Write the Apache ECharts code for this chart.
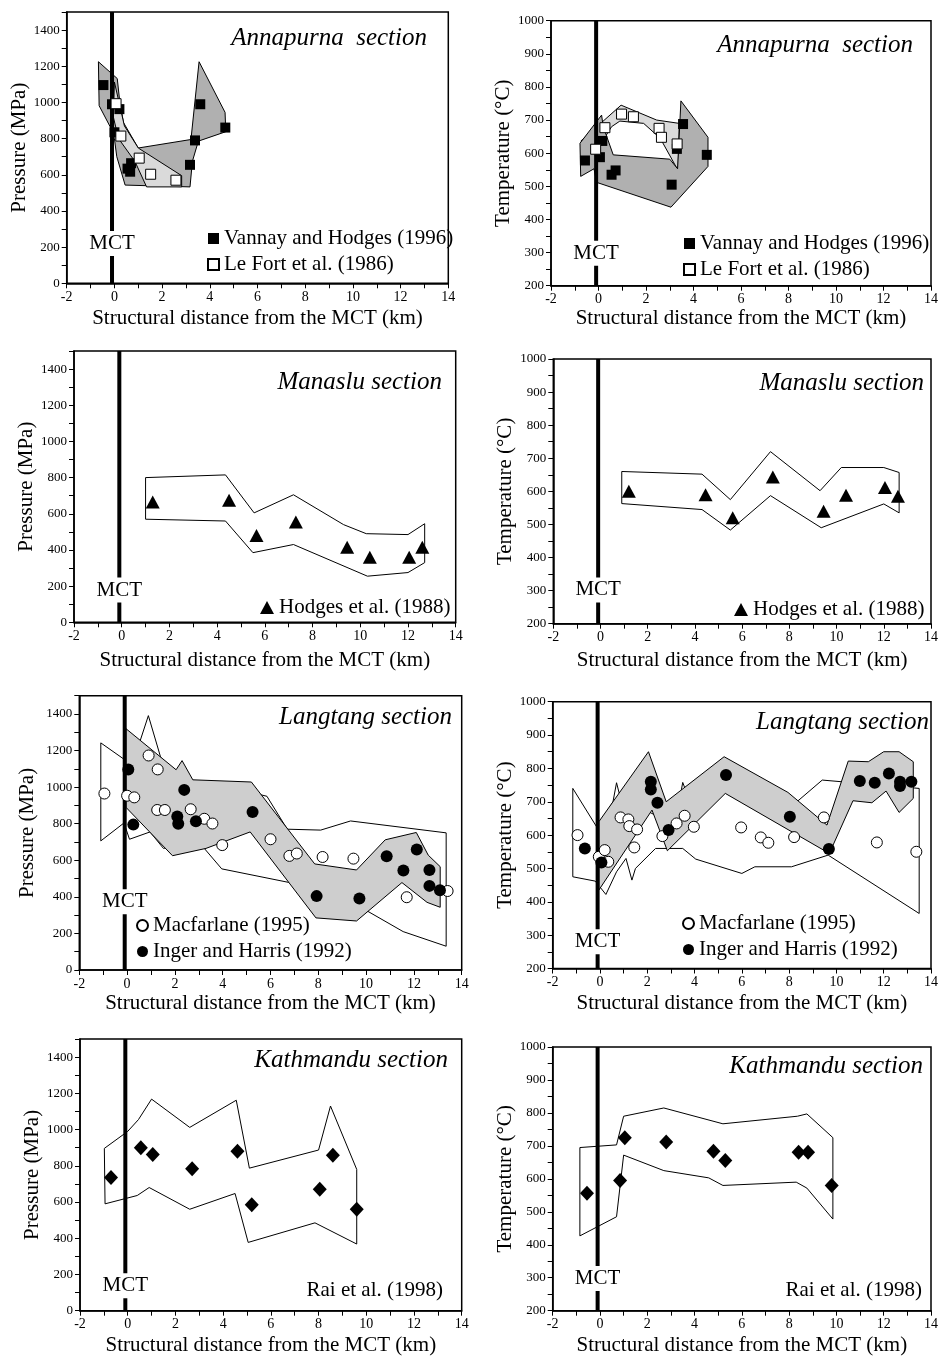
<!DOCTYPE html>
<html><head><meta charset="utf-8">
<script src="https://cdn.jsdelivr.net/npm/echarts@6/dist/echarts.min.js"></script>
<style>html,body{margin:0;padding:0;background:#fff}#c{width:941px;height:1357px}</style>
</head><body><div id="c"></div>
<script>
// ---------- tick labels ----------
const xTickLabels = [-2, 0, 2, 4, 6, 8, 10, 12, 14];
const pTickLabels = [0, 200, 400, 600, 800, 1000, 1200, 1400];
const tTickLabels = [200, 300, 400, 500, 600, 700, 800, 900, 1000];
const mctX = -0.1;

// ---------- Annapurna pressure ----------
const annP_vannay = [[-0.46,1096],[-0.1,990],[0.21,963],[0.0,835],[0.55,634],[0.7,664],[0.66,617],[3.17,655],[3.38,790],[3.6,990],[4.65,861]];
const annP_lefort = [[0.07,993],[0.27,814],[1.04,692],[1.52,603],[2.58,570]];
const annP_envVannay = [[-0.67,1225],[0.12,1132],[0.22,1010],[0.38,889],[1.0,748],[3.21,795],[3.55,1225],[4.64,945],[4.67,838],[3.52,786],[3.27,674],[3.17,533],[0.45,543],[0.1,700],[0.0,800],[-0.12,851],[-0.64,982]];
const annP_envLeFort = [[0.0,1113],[0.42,870],[1.0,748],[2.82,595],[2.82,533],[1.35,533],[0.86,674],[0.17,801],[-0.04,917]];

// ---------- Annapurna temperature ----------
const annT_vannay = [[-0.57,578],[0.06,588],[0.16,637],[0.55,535],[0.72,548],[3.08,505],[3.3,613],[3.56,688],[4.56,595]];
const annT_lefort = [[-0.12,612],[0.27,677],[0.97,718],[1.47,710],[2.55,675],[2.65,648],[3.31,628]];
const annT_envLeFort = [[-0.74,637],[0.95,745],[2.45,700],[3.4,690],[3.35,548],[2.6,645],[1.9,690],[0.9,697],[0.55,680],[0.2,640],[-0.3,605]];
const annT_envVannay = [[-0.78,630],[0.13,715],[0.2,680],[0.62,595],[3.0,582],[3.33,553],[3.47,758],[4.61,648],[4.61,560],[3.05,437],[-0.08,512],[-0.19,553],[-0.75,530]];

// ---------- Manaslu ----------
const manP_hodges = [[1.3,665],[4.5,675],[5.65,480],[7.3,555],[9.45,415],[10.4,360],[12.05,360],[12.6,415]];
const manP_env = [[1.0,800],[4.35,815],[5.55,605],[7.2,705],[9.3,540],[10.25,490],[12.0,485],[12.7,545],[12.7,330],[12.0,275],[10.3,255],[7.2,430],[5.5,385],[4.35,560],[1.0,570]];
const manT_hodges = [[1.2,600],[4.45,590],[5.6,520],[7.3,643],[9.45,540],[10.4,588],[12.05,612],[12.6,585]];
const manT_env = [[0.9,660],[4.3,652],[5.5,575],[7.2,720],[9.3,602],[10.2,672],[12.0,672],[12.65,657],[12.65,535],[12.0,562],[9.35,490],[7.2,587],[5.5,483],[4.3,545],[0.9,563]];

// ---------- Langtang ----------
const lanP_mac = [[-0.95,965],[0.0,953],[0.3,944],[0.9,1173],[1.28,1097],[1.26,875],[1.58,875],[2.66,879],[3.23,827],[3.57,801],[3.98,683],[6.0,715],[6.79,624],[7.1,637],[8.18,618],[9.47,609],[11.7,398],[13.41,432]];
const lanP_inger = [[0.05,1097],[0.26,795],[2.39,985],[2.1,840],[2.14,800],[2.88,814],[5.25,864],[7.93,404],[9.72,391],[10.86,622],[11.56,544],[12.12,659],[12.65,547],[12.65,460],[13.09,436]];
const lanP_envMac = [[-1.1,1242],[-0.1,1150],[0.55,1255],[0.89,1391],[1.4,1165],[2.2,1000],[5.0,960],[5.6,958],[5.85,950],[6.7,770],[8.1,765],[9.35,815],[13.35,750],[13.35,130],[11.55,210],[9.75,345],[6.8,478],[3.96,553],[3.0,700],[1.52,665],[0.96,755],[0.1,715],[-0.13,804],[-1.1,706]];
const lanP_envInger = [[-0.05,1320],[2.05,1095],[2.3,1145],[2.75,1040],[5.2,1028],[7.85,580],[9.6,547],[10.8,712],[12.1,752],[12.6,628],[13.1,565],[13.1,343],[12.55,370],[11.5,478],[9.6,268],[7.9,285],[5.15,755],[3.3,665],[1.9,625],[-0.05,890]];

const lanT_mac = [[-0.95,600],[-0.05,535],[0.2,555],[0.35,520],[0.87,653],[1.2,647],[1.24,627],[1.57,617],[1.45,563],[2.64,597],[3.24,635],[3.58,658],[3.97,625],[5.97,623],[6.8,593],[7.12,577],[8.21,594],[9.47,653],[11.71,578],[13.38,550]];
const lanT_inger = [[-0.64,560],[0.06,518],[2.15,760],[2.15,737],[2.43,697],[2.9,615],[5.33,780],[8.03,655],[9.68,558],[10.99,762],[11.62,757],[12.22,785],[12.69,760],[12.69,747],[13.17,760]];
const lanT_envMac = [[-1.15,740],[-0.1,620],[0.55,700],[0.7,757],[0.85,715],[2.6,650],[3.35,700],[3.5,758],[3.7,720],[5.3,780],[8.0,680],[9.4,765],[13.5,740],[13.5,365],[9.65,540],[8.1,505],[6.55,505],[6.0,485],[4.05,528],[3.5,560],[2.35,560],[1.5,500],[1.35,465],[1.1,530],[0.7,490],[0.25,422],[-0.2,462],[-1.15,475]];
const lanT_envInger = [[-0.05,640],[2.05,850],[2.8,700],[5.25,835],[7.95,728],[9.6,630],[10.5,822],[11.35,820],[12.0,850],[12.65,850],[13.25,820],[13.25,710],[12.65,668],[12.1,732],[11.5,697],[10.7,703],[9.7,545],[5.3,725],[2.85,553],[2.2,675],[-0.05,435]];

// ---------- Kathmandu ----------
const katP_rai = [[-0.7,735],[0.55,900],[1.05,862],[2.7,783],[4.6,880],[5.2,585],[8.05,670],[8.6,858],[9.6,560]];
const katP_env = [[-0.98,896],[0.0,990],[0.45,1055],[1.0,1168],[2.6,1012],[4.55,1162],[5.1,787],[8.0,887],[8.5,1130],[9.6,780],[9.6,368],[7.85,485],[5.05,377],[4.5,647],[2.6,560],[0.9,680],[0.4,636],[-0.95,590]];
const katT_rai = [[-0.55,556],[0.85,595],[1.05,725],[2.8,712],[4.8,684],[5.3,656],[8.4,681],[8.8,681],[9.8,580]];
const katT_env = [[-0.85,695],[0.7,703],[1.0,790],[2.7,815],[5.2,767],[8.35,790],[8.75,797],[9.85,725],[9.85,478],[8.75,572],[8.3,590],[5.2,580],[4.6,603],[2.7,625],[1.0,672],[0.7,485],[-0.85,427]];

// ---------- names ----------
const N_VAN = 'Vannay and Hodges (1996)', N_LEF = 'Le Fort et al. (1986)', N_HOD = 'Hodges et al. (1988)',
      N_MAC = 'Macfarlane (1995)', N_ING = 'Inger and Harris (1992)', N_RAI = 'Rai et al. (1998)';

const FONT = '"Liberation Serif", "Times New Roman", serif';
const DARK = '#b0b0b0', LIGHT = '#dadada', MID = '#cecece', NONE = '#ffffff';
const STY = {
  fsq:{symbol:'rect', size:10, fill:'#000', bw:0},
  osq:{symbol:'rect', size:10, fill:'#fff', bw:1},
  tri:{symbol:'triangle', size:[14,13], fill:'#000', bw:0},
  oc:{symbol:'circle', size:11, fill:'#fff', bw:1},
  fc:{symbol:'circle', size:12, fill:'#000', bw:0},
  dia:{symbol:'diamond', size:[14,15], fill:'#000', bw:0}
};

const panels = [
  {g:{left:66.7,top:12,width:381.6,height:271.3}, k:'P', yGap:35, xGap:25, title:'Annapurna  section', tr:514, tt:26, mctY:220,
   polys:[[annP_envVannay,DARK],[annP_envLeFort,LIGHT]], sc:[[N_VAN,annP_vannay,'fsq'],[N_LEF,annP_lefort,'osq']],
   leg:{left:207, top:228, items:[[N_VAN,'fsq'],[N_LEF,'osq']]}},
  {g:{left:551,top:20.7,width:380.7,height:265}, k:'T', yGap:34, xGap:22, title:'Annapurna  section', tr:28, tt:33, mctY:298,
   polys:[[annT_envLeFort,LIGHT],[annT_envVannay,DARK]], sc:[[N_VAN,annT_vannay,'fsq'],[N_LEF,annT_lefort,'osq']],
   leg:{left:683, top:233, items:[[N_VAN,'fsq'],[N_LEF,'osq']]}},
  {g:{left:74,top:351,width:381.7,height:271.3}, k:'P', yGap:35, xGap:28, title:'Manaslu section', tr:499, tt:370, mctY:178,
   polys:[[manP_env,NONE]], sc:[[N_HOD,manP_hodges,'tri']],
   leg:{left:260, top:597, items:[[N_HOD,'tri']]}},
  {g:{left:553.3,top:359,width:380.7,height:264.7}, k:'T', yGap:33.5, xGap:26, title:'Manaslu section', tr:17, tt:371, mctY:302,
   polys:[[manT_env,NONE]], sc:[[N_HOD,manT_hodges,'tri']],
   leg:{left:734, top:599, items:[[N_HOD,'tri']]}},
  {g:{left:79.3,top:695.7,width:382.4,height:274.3}, k:'P', yGap:41, xGap:23, title:'Langtang section', tr:489, tt:705, mctY:373,
   polys:[[lanP_envMac,NONE],[lanP_envInger,MID]], sc:[[N_MAC,lanP_mac,'oc'],[N_ING,lanP_inger,'fc']],
   leg:{left:136, top:915, items:[[N_MAC,'oc'],[N_ING,'fc']]}},
  {g:{left:552.7,top:701.7,width:381.3,height:266.8}, k:'T', yGap:35, xGap:24, title:'Langtang section', tr:12, tt:710, mctY:280,
   polys:[[lanT_envMac,NONE],[lanT_envInger,MID]], sc:[[N_MAC,lanT_mac,'oc'],[N_ING,lanT_inger,'fc']],
   leg:{left:682, top:913, items:[[N_MAC,'oc'],[N_ING,'fc']]}},
  {g:{left:80,top:1039,width:381.7,height:271.7}, k:'P', yGap:36, xGap:24, title:'Kathmandu section', tr:493, tt:1048, mctY:138,
   polys:[[katP_env,NONE]], sc:[[N_RAI,katP_rai,'dia']], note:{right:498, top:1280}},
  {g:{left:552.7,top:1047,width:381.6,height:263.7}, k:'T', yGap:31.5, xGap:24, title:'Kathmandu section', tr:18, tt:1054, mctY:298,
   polys:[[katT_env,NONE]], sc:[[N_RAI,katT_rai,'dia']], note:{right:19, top:1280}}
];

const grids = [], xAxes = [], yAxes = [], series = [], titles = [], legends = [];
const blk = '#000';
panels.forEach((p, i) => {
  grids.push(Object.assign({show:true, borderColor:blk, borderWidth:1.5, backgroundColor:'transparent'}, p.g));
  xAxes.push({gridIndex:i, type:'value', min:xTickLabels[0], max:xTickLabels[xTickLabels.length-1], interval:1,
    name:'Structural distance from the MCT (km)', nameLocation:'middle', nameGap:p.xGap,
    nameTextStyle:{fontFamily:FONT, fontSize:21, color:blk},
    axisLine:{show:true, onZero:false, lineStyle:{color:blk, width:1.5}},
    axisTick:{show:true, length:5, lineStyle:{color:blk, width:1}},
    axisLabel:{fontFamily:FONT, fontSize:14, color:blk, margin:7, formatter:v => xTickLabels.includes(v) ? String(v) : ''},
    splitLine:{show:false}});
  const isP = p.k === 'P';
  const labs = isP ? pTickLabels : tTickLabels;
  yAxes.push({gridIndex:i, type:'value', min:labs[0], max:isP ? 1500 : 1000, interval:isP ? 100 : 50,
    name:isP ? 'Pressure (MPa)' : 'Temperature (°C)', nameLocation:'middle', nameGap:p.yGap,
    nameTextStyle:{fontFamily:FONT, fontSize:21, color:blk},
    axisLine:{show:true, onZero:false, lineStyle:{color:blk, width:1.5}},
    axisTick:{show:true, length:5, lineStyle:{color:blk, width:1}},
    axisLabel:{fontFamily:FONT, fontSize:13, color:blk, margin:7, formatter:v => labs.includes(v) ? String(v) : ''},
    splitLine:{show:false}});
  // envelopes
  p.polys.forEach(([poly, fill], j) => {
    series.push({type:'custom', xAxisIndex:i, yAxisIndex:i, data:[poly[0]], z:1 + j, silent:true,
      renderItem:(params, api) => ({type:'polygon', shape:{points:poly.map(pt => api.coord(pt))},
        style:{fill:fill, stroke:blk, lineWidth:1}})});
  });
  // MCT line
  const yr = isP ? [0, 1500] : [200, 1000];
  series.push({type:'line', xAxisIndex:i, yAxisIndex:i, data:[[mctX, yr[0]],[mctX, yr[1]]], symbol:'none',
    lineStyle:{color:blk, width:4}, z:5, silent:true});
  // data points
  p.sc.forEach(([name, data, s]) => {
    const st = STY[s];
    series.push({type:'scatter', name, xAxisIndex:i, yAxisIndex:i, data, symbol:st.symbol, symbolSize:st.size,
      itemStyle:{color:st.fill, borderColor:blk, borderWidth:st.bw, opacity:1}, z:6, silent:true});
  });
  // MCT label
  series.push({type:'scatter', xAxisIndex:i, yAxisIndex:i, data:[[mctX, p.mctY]], symbol:'rect', symbolSize:[1,1],
    itemStyle:{color:'#fff', opacity:1}, z:7, silent:true,
    label:{show:true, position:'inside', formatter:'MCT', fontFamily:FONT, fontSize:21, color:'#000', opacity:1,
      textBorderWidth:0, backgroundColor:'#fff', padding:[2,1]}});
  titles.push({text:p.title, right:p.tr, top:p.tt, padding:0,
    textStyle:{fontFamily:FONT, fontStyle:'italic', fontWeight:'normal', fontSize:25, color:blk}});
  if (p.note) titles.push({text:N_RAI, right:p.note.right, top:p.note.top, padding:0,
    textStyle:{fontFamily:FONT, fontWeight:'normal', fontSize:21, color:blk}});
  if (p.leg) legends.push({left:p.leg.left, top:p.leg.top, orient:'vertical', padding:0, itemGap:5,
    itemWidth:p.leg.items[0][1] === 'tri' ? 14 : 11, itemHeight:p.leg.items[0][1] === 'tri' ? 13 : 11,
    selectedMode:false, data:p.leg.items.map(([n, s]) => ({name:n, icon:STY[s].symbol})),
    textStyle:{fontFamily:FONT, fontSize:21, color:blk, lineHeight:20}});
});

const chart = echarts.init(document.getElementById('c'), null, {renderer:'canvas'});
chart.setOption({animation:false, backgroundColor:'#fff', title:titles, legend:legends,
  grid:grids, xAxis:xAxes, yAxis:yAxes, series});
</script></body></html>
